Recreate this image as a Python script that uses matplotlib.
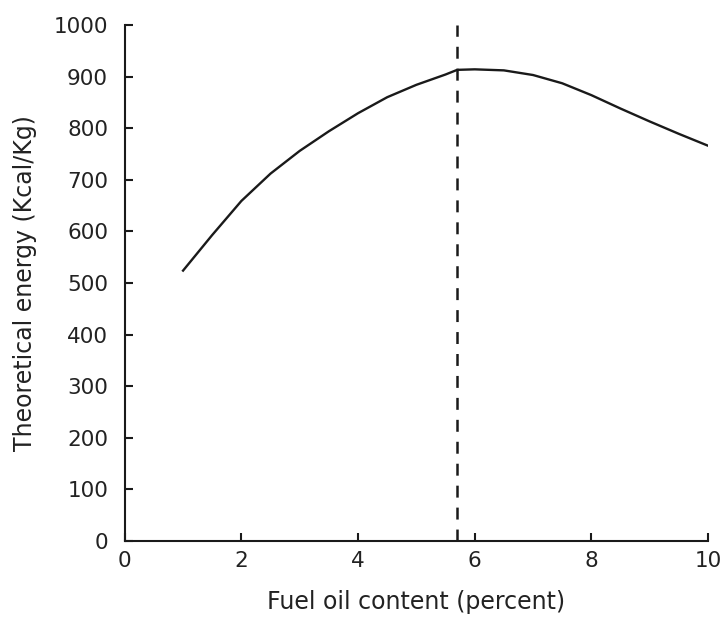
import matplotlib.pyplot as plt
import numpy as np

# values
oil = [1.0, 1.5, 2.0, 2.5, 3.0, 3.5, 4.0, 4.5, 5.0, 5.5, 5.7,
       6.0, 6.5, 7.0, 7.5, 8.0, 8.5, 9.0, 9.5, 10.0]
energy = [524, 593, 659, 712, 756, 794, 829, 860, 884, 904, 913,
          914, 912, 903, 887, 864, 838, 813, 789, 766]
optimum = 5.7

xticks = [0, 2, 4, 6, 8, 10]
yticks = np.arange(0, 1001, 100)

ink = "#1a1a1a"

fig = plt.figure(figsize=(7.21, 6.24), dpi=100)
ax = fig.add_axes([0.173, 0.133, 0.809, 0.827])

ax.plot(oil, energy, color=ink, linewidth=1.7, solid_joinstyle="round")
lw = 1.8
ax.plot([optimum, optimum], [0, 1000], color=ink, linewidth=lw,
        dashes=(8.6 / lw, 7.2 / lw))

ax.set_xlim(0, 10)
ax.set_ylim(0, 1000)
ax.set_xticks(xticks)
ax.set_yticks(yticks)

for s in ["top", "right"]:
    ax.spines[s].set_visible(False)
for s in ["left", "bottom"]:
    ax.spines[s].set_linewidth(1.5)
    ax.spines[s].set_color(ink)

ax.tick_params(direction="in", length=6, width=1.5, color=ink,
               labelcolor="#222222", labelsize=15.5)
ax.tick_params(axis="y", pad=12)
ax.tick_params(axis="x", pad=7)
ax.set_xlabel("Fuel oil content (percent)", fontsize=17, color="#222222",
              labelpad=14)
ax.set_ylabel("Theoretical energy (Kcal/Kg)", fontsize=17, color="#222222",
              labelpad=12)

fig.savefig("out.png", dpi=100)
